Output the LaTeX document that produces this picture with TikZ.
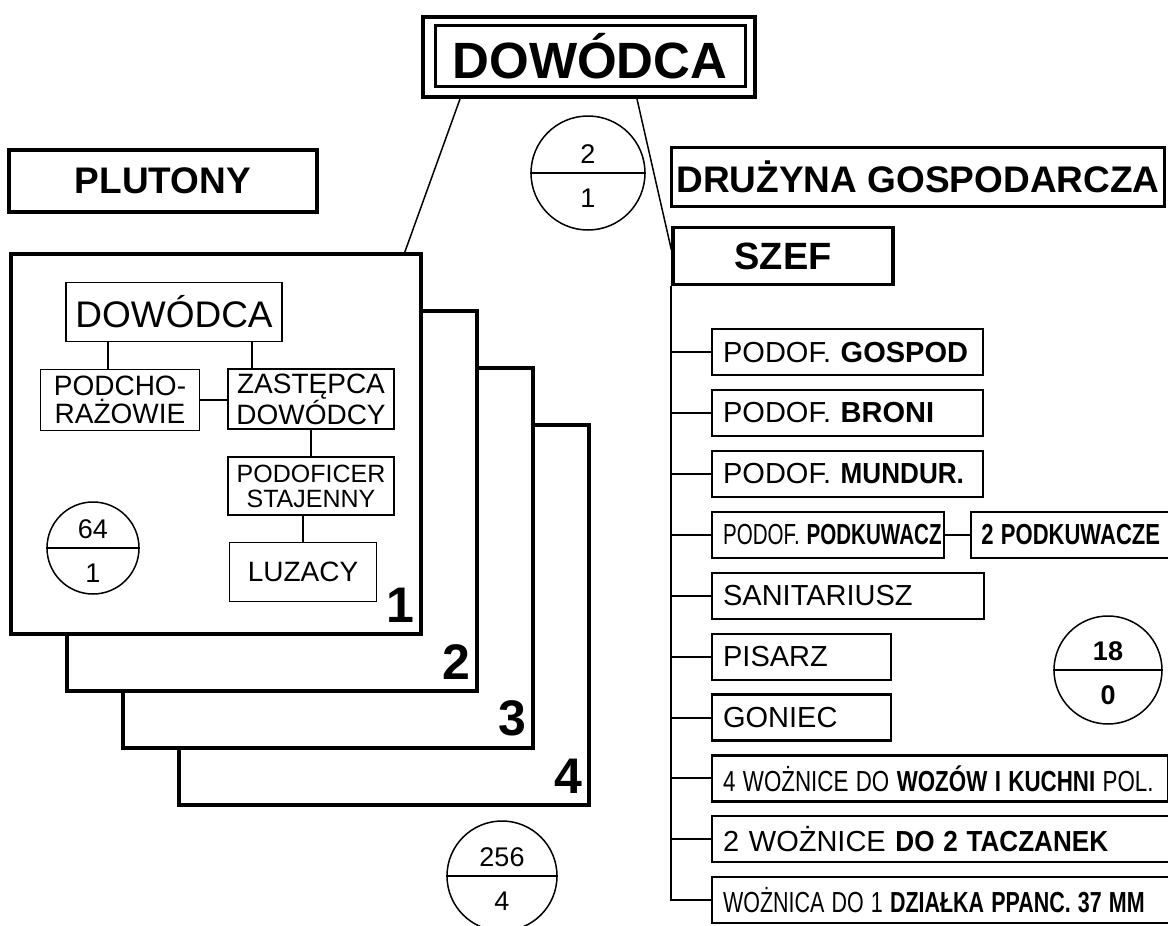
\documentclass[tikz,border=0pt]{standalone}
\usepackage{fontspec}
\setmainfont{Liberation Sans}
\usepackage{graphicx}
\usetikzlibrary{positioning,calc}

\newcommand{\squeeze}[2]{\scalebox{#1}[1]{#2}}
\newcommand{\fsize}[1]{\fontsize{#1}{#1}\selectfont}

\tikzset{
  heavybox/.style={draw, line width=3.2pt, fill=white, inner sep=0pt},
  platoon/.style={draw, line width=3.5pt, fill=white, minimum width=410pt, minimum height=380pt},
  cellbox/.style={draw, line width=1.6pt, fill=white, inner sep=1pt, align=center},
  item/.style={draw, line width=2.2pt, fill=white, minimum height=46pt, inner xsep=11pt,
    inner ysep=0pt, align=left, font=\fsize{29}},
  tally/.style={draw, circle, line width=1.5pt, inner sep=0pt},
  tallynum/.style={inner sep=0pt, font=\fsize{27}},
  link/.style={line width=1.5pt},
  trunk/.style={line width=2pt},
}

% circle with two numbers: name, position, size, top, bottom
\newcommand{\tallycircle}[5]{%
  \node[tally, minimum size=#3] (#1) at #2 {};
  \draw[link] (#1.west) -- (#1.east);
  \node[tallynum] (#1top) at ($(#1.center)+(0,-19)$) {#4};
  \node[tallynum] (#1bot) at ($(#1.center)+(0,25)$) {#5};
}

\begin{document}
\begin{tikzpicture}[x=1pt, y=-1pt]
    \clip (0,0) rectangle (1168,926);

    % Commander
    \node[draw, line width=4pt, minimum width=332pt, minimum height=80pt] (chieffrm) at (589,57) {};
    \node[draw, line width=3pt, minimum width=310pt, minimum height=61pt, inner sep=0pt,
          font=\bfseries\fsize{51}] (chief) at (590,56) {DOWÓDCA};

    % Headers
    \node[heavybox, minimum width=308pt, minimum height=62pt, font=\bfseries\fsize{37}] (plut) at (163,181) {PLUTONY};
    \node[heavybox, minimum width=493pt, minimum height=59pt, font=\bfseries\fsize{37}] (econ) at (918,177) {DRUŻYNA GOSPODARCZA};
    \node[heavybox, minimum width=220pt, minimum height=57pt, font=\bfseries\fsize{38}] (szef) at (783,256) {SZEF};

    % Platoons, back to front
    \foreach \i in {4,3,2,1}{
        \node[platoon] (pl\i) at ({216+56*(\i-1)},{444+57*(\i-1)}) {};
        \node[anchor=south east, inner sep=0pt, font=\bfseries\fsize{50}] (pln\i) at ($(pl\i.south east)+(-8,-13)$) {\i};
    }

    % Inside platoon 1
    \node[cellbox, minimum width=216pt, minimum height=59pt, font=\fsize{37}] (pldow) at (174,312) {DOWÓDCA};
    \node[cellbox, minimum width=159pt, minimum height=61pt, font={\fontsize{28}{28}\selectfont}] (cadet) at (120,400) {PODCHO-\\RAŻOWIE};
    \node[cellbox, minimum width=166pt, minimum height=60pt, font={\fontsize{28}{28}\selectfont}] (deputy) at (311,399) {ZASTĘPCA\\DOWÓDCY};
    \node[cellbox, minimum width=166pt, minimum height=58pt, font={\fontsize{25}{25}\selectfont}] (stable) at (311,486) {PODOFICER\\STAJENNY};
    \node[cellbox, minimum width=147pt, minimum height=59pt, font=\fsize{28}] (orderly) at (303,572) {LUZACY};

    \coordinate (cadetup) at ($(cadet.north)+(-12,0)$);
    \coordinate (deputyup) at ($(deputy.north)+(-59,0)$);
    \draw[link] (cadetup) -- (cadetup |- pldow.south);
    \draw[link] (deputyup) -- (deputyup |- pldow.south);
    \draw[link] (cadet.east) -- (cadet.east -| deputy.west);
    \draw[link] (deputy.south) -- (stable.north);
    \draw[link] (orderly.north) -- (orderly.north |- stable.south);

    \tallycircle{plstr}{(93,548)}{92pt}{64}{1}

    % Lines from commander
    \draw[link] ($(chieffrm.south west)+(39,0)$) -- ($(pl1.north east)+(-18,0)$);
    \draw[link] ($(chieffrm.south east)+(-120,0)$) -- ($(szef.west)+(0,-6)$);
    \tallycircle{hqstr}{(588,173)}{114pt}{2}{1}

    % Economic squad
    \node[item, text width=249pt, anchor=north west] (gospod) at (711,328) {PODOF. \textbf{GOSPOD}};
    \node[item, text width=249pt, below=12.7pt of gospod.south west, anchor=north west] (broni) {PODOF. \textbf{BRONI}};
    \node[item, text width=249pt, below=12.7pt of broni.south west, anchor=north west] (mundur) {PODOF. \squeeze{0.9}{\textbf{MUNDUR.}}};
    \node[item, text width=210pt, below=12.7pt of mundur.south west, anchor=north west] (podkuw) {\squeeze{0.71}{PODOF. \textbf{PODKUWACZ}}};
    \node[item, text width=250pt, below=12.7pt of podkuw.south west, anchor=north west] (sanit) {SANITARIUSZ};
    \node[item, text width=157pt, below=12.7pt of sanit.south west, anchor=north west] (pisarz) {PISARZ};
    \node[item, text width=157pt, below=12.7pt of pisarz.south west, anchor=north west] (goniec) {GONIEC};
    \node[item, text width=434pt, below=12.7pt of goniec.south west, anchor=north west] (wozn4) {\squeeze{0.77}{4 WOŻNICE DO \textbf{WOZÓW I KUCHNI} POL.}};
    \node[item, text width=439pt, below=12.7pt of wozn4.south west, anchor=north west] (wozn2) {2 WOŻNICE \squeeze{0.9}{\textbf{DO 2 TACZANEK}}};
    \node[item, text width=439pt, below=12.7pt of wozn2.south west, anchor=north west] (wozn1) {\squeeze{0.74}{WOŻNICA DO 1 \textbf{DZIAŁKA PPANC. 37 MM}}};
    \node[item, text width=186pt, inner xsep=10pt, right=25pt of podkuw] (podk2) {\squeeze{0.76}{\textbf{2 PODKUWACZE}}};

    \draw[trunk] (szef.south west) -- (szef.south west |- wozn1.west) -- (wozn1.west);
    \foreach \n in {gospod,broni,mundur,podkuw,sanit,pisarz,goniec,wozn4,wozn2}
        \draw[trunk] (szef.south west |- \n.west) -- (\n.west);
    \draw[link] (podkuw.east) -- (podk2.west);

    \tallycircle{ecstr}{(1108,670)}{108pt}{\textbf{18}}{\textbf{0}}
    \tallycircle{allstr}{(502,876)}{110pt}{256}{4}
\end{tikzpicture}
\end{document}
